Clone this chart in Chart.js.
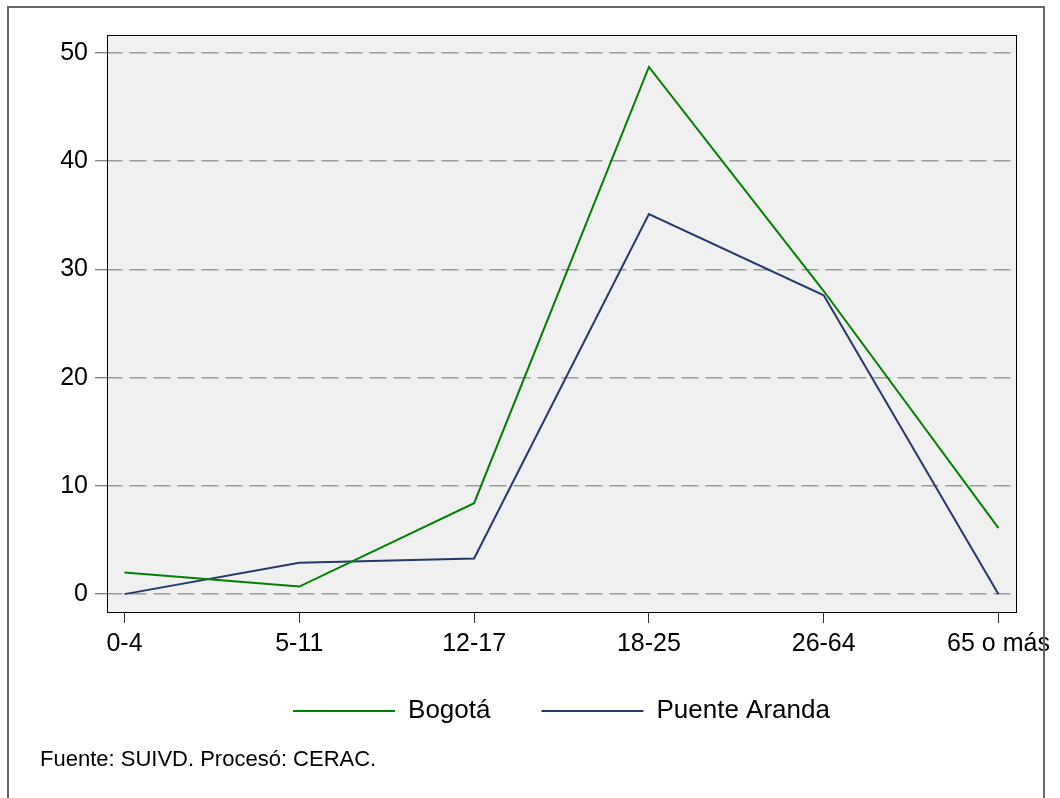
<!DOCTYPE html>
<html>
<head>
<meta charset="utf-8">
<script src="https://cdn.jsdelivr.net/npm/chart.js@4/dist/chart.umd.min.js"></script>
<style>
  html, body { margin: 0; padding: 0; background: #fff; }
  #wrap { width: 1060px; height: 798px; position: relative; }
</style>
</head>
<body>
<div id="wrap"><canvas id="chart"></canvas></div>
<script>
const categories = ["0-4", "5-11", "12-17", "18-25", "26-64", "65 o más"];
const bogota = [2.0, 0.7, 8.4, 48.7, 28.0, 6.1];
const puenteAranda = [0, 2.9, 3.3, 35.1, 27.6, 0];
const yTicks = [0, 10, 20, 30, 40, 50];
const footerText = "Fuente: SUIVD. Procesó: CERAC.";

const FONT = "'Liberation Sans', Arial, sans-serif";
Chart.defaults.font.family = FONT;
Chart.defaults.color = "#000";

// fondo gris del area, marco y nota al pie
const decor = {
  id: "decor",
  afterLayout(chart) {
    // subir la leyenda (el padding grande la empuja hacia abajo)
    if (chart.legend) {
      chart.legend.top -= 31.5;
      chart.legend.bottom -= 31.5;
    }
  },
  beforeDraw(chart) {
    const { ctx, chartArea: a } = chart;
    ctx.save();
    ctx.fillStyle = "#f0f0f0";
    ctx.fillRect(a.left, a.top, a.right - a.left, a.bottom - a.top);
    ctx.restore();
  },
  afterDraw(chart) {
    const { ctx, chartArea: a } = chart;
    ctx.save();
    ctx.strokeStyle = "#000";
    ctx.lineWidth = 1;
    ctx.strokeRect(a.left + 0.5, a.top + 0.5, a.right - a.left, a.bottom - a.top);
    ctx.strokeStyle = "#666";
    ctx.lineWidth = 2;
    ctx.strokeRect(8, 7, 1036, 810);
    ctx.fillStyle = "#000";
    ctx.font = "22px " + FONT;
    ctx.textAlign = "left";
    ctx.textBaseline = "middle";
    ctx.fillText(footerText, 40, 760);
    ctx.restore();
  },
};

const toPoints = (arr) => arr.map((v, i) => ({ x: i, y: v }));

new Chart(document.getElementById("chart"), {
  type: "line",
  data: {
    datasets: [
      {
        label: "Bogotá",
        data: toPoints(bogota),
        borderColor: "#008000",
        backgroundColor: "#008000",
        borderWidth: 2,
        pointRadius: 0,
        tension: 0,
      },
      {
        label: "Puente Aranda",
        data: toPoints(puenteAranda),
        borderColor: "#24386c",
        backgroundColor: "#24386c",
        borderWidth: 2,
        pointRadius: 0,
        tension: 0,
      },
    ],
  },
  options: {
    responsive: true,
    maintainAspectRatio: false,
    animation: false,
    layout: { padding: { top: 35, right: 44, left: 0, bottom: 32.5 } },
    scales: {
      x: {
        type: "linear",
        min: -0.1,
        max: 5.1,
        afterBuildTicks: (s) => {
          s.ticks = categories.map((c, i) => ({ value: i }));
        },
        afterFit: (s) => {
          s.height = 66.5;
        },
        ticks: {
          autoSkip: false,
          maxRotation: 0,
          padding: 6,
          font: { size: 25 },
          callback: (v) => categories[v],
        },
        grid: {
          drawOnChartArea: false,
          drawTicks: true,
          tickLength: 11,
          tickColor: "#333",
          tickWidth: 1,
        },
        border: { display: false },
      },
      y: {
        min: -1.65,
        max: 51.65,
        afterBuildTicks: (s) => {
          s.ticks = yTicks.map((v) => ({ value: v }));
        },
        afterFit: (s) => {
          s.width = 107;
        },
        ticks: {
          padding: 7,
          font: { size: 25 },
        },
        grid: {
          color: "#9a9a9a",
          lineWidth: 1.5,
          tickLength: 12,
          tickColor: "#555",
          tickWidth: 1,
          tickBorderDash: [],
        },
        border: { display: false, dash: [17, 7], dashOffset: 1.5 },
      },
    },
    plugins: {
      legend: {
        position: "bottom",
        fullSize: false,
        labels: {
          usePointStyle: true,
          pointStyle: "line",
          pointStyleWidth: 102,
          padding: 51,
          font: { size: 26 },
          color: "#000",
        },
      },
      tooltip: { enabled: false },
    },
  },
  plugins: [decor],
});
</script>
</body>
</html>
